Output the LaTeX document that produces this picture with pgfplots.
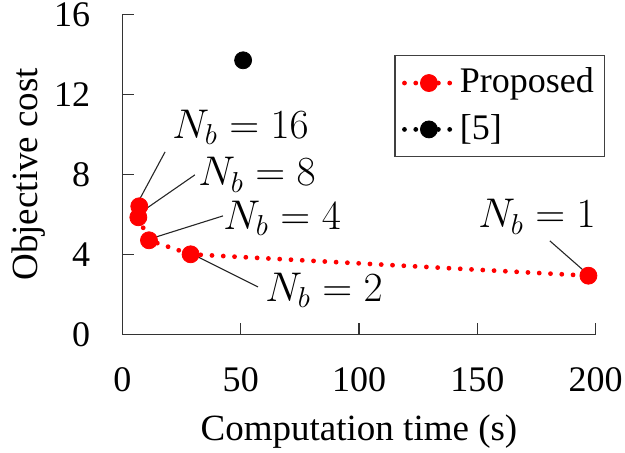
\documentclass[border=0pt]{standalone}
\usepackage{pgfplots}
\pgfplotsset{compat=1.18}
\usepackage{fontspec}
\setmainfont{Liberation Serif}
\begin{document}
\fontsize{18}{21}\selectfont
\begin{tikzpicture}
\begin{axis}[
  scale only axis, width=236.5pt, height=160pt,
  xmin=0, xmax=200, ymin=0, ymax=16,
  xtick={0,50,100,150,200}, ytick={0,4,8,12,16},
  axis lines*=left,
  axis line style={black!80, line width=0.6pt},
  tick style={black!80, line width=0.6pt},
  major tick length=5.5pt,
  tick align=inside,
  /pgf/number format/assume math mode=true,
  xticklabel style={yshift=-10.5pt},
  yticklabel style={xshift=-10pt},
  xlabel={Computation time (s)},
  ylabel={Objective cost},
  xlabel style={at={(axis description cs:0.5,-0.304)}, anchor=center, font=\fontsize{18.5}{21}\selectfont},
  ylabel style={at={(axis description cs:-0.198,0.5)}, anchor=center, font=\fontsize{18.5}{21}\selectfont},
  clip=false,
  legend cell align=left,
  legend style={at={(axis description cs:0.575,0.872)}, anchor=north west,
    draw=black!75, line width=0.6pt, inner xsep=3.5pt, inner ysep=4pt, row sep=4pt,
    font=\fontsize{18}{21}\selectfont},
  legend image code/.code={\draw[mark repeat=2,mark phase=2] plot coordinates {(0cm,0cm) (0.43cm,0cm) (0.86cm,0cm)};},
]
\addplot[red, line width=2.4pt, dash pattern=on 0pt off 5.65pt, line cap=round,
  mark=*, mark size=4.25pt, mark options={solid, fill=red, draw=red, line width=0.4pt}]
  coordinates {(7.1,6.4) (6.7,5.85) (11.2,4.7) (28.8,4.0) (197,2.93)};
\addlegendentry{Proposed}
\addplot[black, line width=2.4pt, dash pattern=on 0pt off 5.65pt, line cap=round,
  mark=*, mark size=4.25pt, mark options={solid, fill=black, draw=black, line width=0.4pt}]
  coordinates {(51,13.7)};
\addlegendentry{[5]}
\draw[black!85, line width=0.55pt] (axis cs:18,9.12) -- (axis cs:6.1,6.5);
\draw[black!85, line width=0.55pt] (axis cs:30.6,7.97) -- (axis cs:7.4,6.07);
\draw[black!85, line width=0.55pt] (axis cs:42.5,5.92) -- (axis cs:11.6,4.77);
\draw[black!85, line width=0.55pt] (axis cs:57.3,2.37) -- (axis cs:28.5,4.07);
\draw[black!85, line width=0.55pt] (axis cs:180.7,4.67) -- (axis cs:196.8,3.0);
\node[anchor=west, inner sep=0pt, font=\fontsize{20.74}{24}\selectfont] at (axis cs:20.9,10.35) {$N_b = 16$};
\node[anchor=west, inner sep=0pt, font=\fontsize{20.74}{24}\selectfont] at (axis cs:31.9,7.97) {$N_b = 8$};
\node[anchor=west, inner sep=0pt, font=\fontsize{20.74}{24}\selectfont] at (axis cs:42.5,5.78) {$N_b = 4$};
\node[anchor=west, inner sep=0pt, font=\fontsize{20.74}{24}\selectfont] at (axis cs:60.2,2.2) {$N_b = 2$};
\node[anchor=west, inner sep=0pt, font=\fontsize{20.74}{24}\selectfont] at (axis cs:150.3,5.87) {$N_b = 1$};
\end{axis}
\pgfresetboundingbox
\path[use as bounding box] (-61.25pt,-59.35pt) rectangle (251.25pt,167.15pt);
\end{tikzpicture}
\end{document}
